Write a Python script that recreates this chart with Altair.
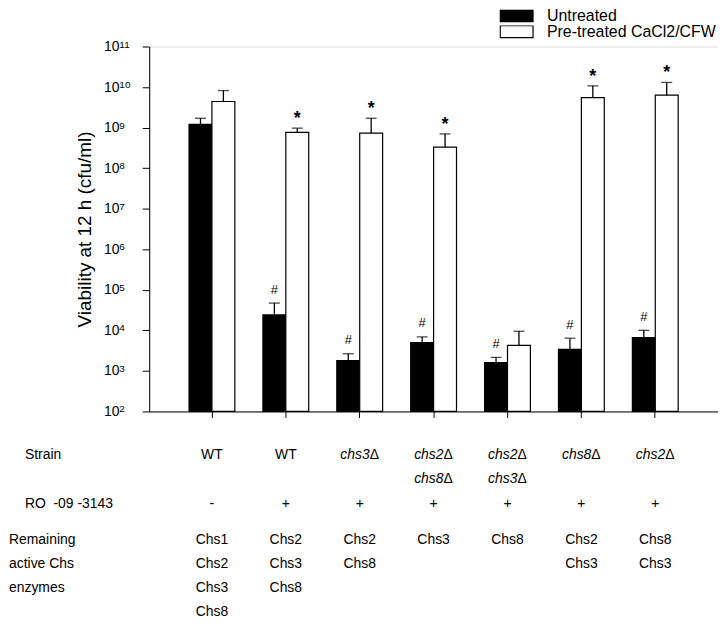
import altair as alt
import pandas as pd

# ---------------- data ----------------
groups = ["1", "2", "3", "4", "5", "6", "7"]
treatments = ["Untreated", "Pre-treated CaCl2/CFW"]

untreated = [1.2e9, 2.4e4, 1.8e3, 5.0e3, 1.6e3, 3.4e3, 6.6e3]
untreated_upper = [1.7e9, 4.7e4, 2.65e3, 6.9e3, 2.15e3, 6.4e3, 1.0e4]
pretreated = [4.4e9, 7.6e8, 7.3e8, 3.3e8, 4.25e3, 5.5e9, 6.3e9]
pretreated_upper = [8.2e9, 9.7e8, 1.7e9, 7.0e8, 9.5e3, 1.07e10, 1.3e10]
untreated_marks = ["", "#", "#", "#", "#", "#", "#"]
pretreated_marks = ["", "*", "*", "*", "", "*", "*"]

strain_line1 = ["WT", "WT", "chs3", "chs2", "chs2", "chs8", "chs2"]
strain_line2 = ["", "", "", "chs8", "chs3", "", ""]
ro_treatment = ["-", "+", "+", "+", "+", "+", "+"]
remaining = [
    ["Chs1", "Chs2", "Chs3", "Chs8"],
    ["Chs2", "Chs3", "Chs8"],
    ["Chs2", "Chs8"],
    ["Chs3"],
    ["Chs8"],
    ["Chs2", "Chs3"],
    ["Chs8", "Chs3"],
]
headers_a = ["Strain", "RO\u00a0\u00a0-09 -3143"]
headers_a_rows = [0, 2]
headers_b = ["Remaining", "active Chs", "enzymes"]
headers_b_rows = [3.5, 4.5, 5.5]
exponents = list(range(2, 12))
y_ticks = [10 ** k for k in exponents]

# ---------------- tables ----------------
rows = []
for i, g in enumerate(groups):
    rows.append(dict(group=g, treatment=treatments[0], value=untreated[i],
                     upper=untreated_upper[i], mark=untreated_marks[i]))
    rows.append(dict(group=g, treatment=treatments[1], value=pretreated[i],
                     upper=pretreated_upper[i], mark=pretreated_marks[i]))
bars_df = pd.DataFrame(rows)

plain_rows, gene_rows = [], []
for i, g in enumerate(groups):
    for r, s in ((0, strain_line1[i]), (1, strain_line2[i])):
        if not s:
            continue
        if s == "WT":
            plain_rows.append(dict(group=g, row=r, text=s))
        else:
            gene_rows.append(dict(group=g, row=r, text=s, delta="\u0394"))
    plain_rows.append(dict(group=g, row=2, text=ro_treatment[i]))
    for k, e in enumerate(remaining[i]):
        plain_rows.append(dict(group=g, row=3.5 + k, text=e))
plain_df = pd.DataFrame(plain_rows)
gene_df = pd.DataFrame(gene_rows)
hdr_a_df = pd.DataFrame(dict(text=headers_a, row=headers_a_rows))
hdr_b_df = pd.DataFrame(dict(text=headers_b, row=headers_b_rows))
exp_df = pd.DataFrame(dict(tick=y_ticks, exp=[str(e) for e in exponents]))

FONT = "Liberation Sans"
TITLE = "Viability at 12 h (cfu/ml)"

x_enc = alt.X("group:N", sort=groups,
              scale=alt.Scale(paddingInner=0.38, paddingOuter=0.539),
              axis=alt.Axis(labels=False, title=None, tickSize=6, tickColor="black",
                            domainColor="black", grid=False, domainWidth=1, tickWidth=1))
xoff = alt.XOffset("treatment:N", sort=treatments,
                   scale=alt.Scale(paddingInner=0, paddingOuter=0))
y_scale = alt.Scale(type="log", domain=[100, 1e11], nice=False)

y_axis = alt.Axis(values=y_ticks, labelExpr="'10'", tickSize=7,
                  tickColor="black", domainColor="black", grid=False,
                  labelAlign="left", labelPadding=39, labelFontSize=14,
                  labelFont=FONT, labelColor="black",
                  title=TITLE, titleFontSize=19,
                  titleFont=FONT, titleFontWeight="normal", titleColor="black",
                  titleX=-65, titleY=183.5, titleAngle=270,
                  titleAlign="center", titleBaseline="middle")


def yv(field):
    return alt.Y(field, scale=y_scale, axis=y_axis, title=TITLE)


base = alt.Chart(bars_df)

bars = base.mark_bar(stroke="black", strokeWidth=1.2).encode(
    x=x_enc,
    xOffset=xoff,
    y=yv("value:Q"),
    y2=alt.datum(100),
    fill=alt.Fill("treatment:N", sort=treatments,
                  scale=alt.Scale(domain=treatments, range=["black", "white"]),
                  legend=alt.Legend(title=None, orient="none", legendX=352, legendY=-37,
                                    symbolType="M-1,-0.364H1V0.364H-1Z", symbolSize=1089,
                                    symbolStrokeColor="black", symbolStrokeWidth=1.2,
                                    symbolOpacity=1, labelFontSize=16, labelFont=FONT,
                                    labelColor="black", labelOffset=13, clipHeight=12,
                                    labelLimit=400, rowPadding=0, padding=0)),
)

err = base.mark_rule(color="black", strokeWidth=1.3).encode(
    x=x_enc, xOffset=xoff,
    y=yv("value:Q"),
    y2="upper:Q",
)

caps = base.mark_tick(color="black", thickness=1.3, size=11, orient="horizontal").encode(
    x=x_enc, xOffset=xoff,
    y=yv("upper:Q"),
)

hash_txt = base.transform_filter(alt.datum.mark == "#").mark_text(
    font=FONT, fontSize=13, baseline="alphabetic", dy=-9.5, color="black").encode(
    x=x_enc, xOffset=xoff,
    y=yv("upper:Q"),
    text="mark:N",
)

star_txt = base.transform_filter(alt.datum.mark == "*").mark_text(
    font=FONT, fontSize=18, fontWeight="bold", baseline="alphabetic", dy=-4,
    color="black").encode(
    x=x_enc, xOffset=xoff,
    y=yv("upper:Q"),
    text="mark:N",
)

exp_txt = alt.Chart(exp_df).mark_text(
    font=FONT, fontSize=10, baseline="alphabetic", align="left", dy=1,
    color="black").encode(
    x=alt.value(-30),
    y=alt.Y("tick:Q", scale=y_scale, axis=y_axis, title=TITLE),
    text="exp:N",
)

plot = alt.layer(bars, err, caps, hash_txt, star_txt, exp_txt)

row_y = alt.Y("row:Q", scale=alt.Scale(domain=[0, 6.5], range=[411, 569],
                                      nice=False, zero=False), axis=None)

plain_txt = alt.Chart(plain_df).mark_text(
    font=FONT, fontSize=14, baseline="middle", color="black").encode(
    x=x_enc, y=row_y, text="text:N")

gene_txt = alt.Chart(gene_df).mark_text(
    font=FONT, fontSize=14, fontStyle="italic", baseline="middle", align="right",
    dx=10, color="black").encode(x=x_enc, y=row_y, text="text:N")

delta_txt = alt.Chart(gene_df).mark_text(
    font=FONT, fontSize=14, baseline="middle", align="left", dx=10,
    color="black").encode(x=x_enc, y=row_y, text="delta:N")

hdr_a = alt.Chart(hdr_a_df).mark_text(
    font=FONT, fontSize=14, baseline="middle", align="left", color="black").encode(
    x=alt.value(-125), y=row_y, text="text:N")

hdr_b = alt.Chart(hdr_b_df).mark_text(
    font=FONT, fontSize=14, baseline="middle", align="left", color="black").encode(
    x=alt.value(-141), y=row_y, text="text:N")

table = alt.layer(plain_txt, gene_txt, delta_txt, hdr_a, hdr_b)

chart = alt.layer(plot, table).resolve_scale(y="independent").properties(
    width=572, height=367,
    autosize=alt.AutoSizeParams(type="none"),
    padding={"left": 142, "top": 37, "right": 0, "bottom": 208},
).configure_view(stroke=None).configure(font=FONT)

chart.save("out.html", embed_options={"renderer": "svg", "actions": False})
